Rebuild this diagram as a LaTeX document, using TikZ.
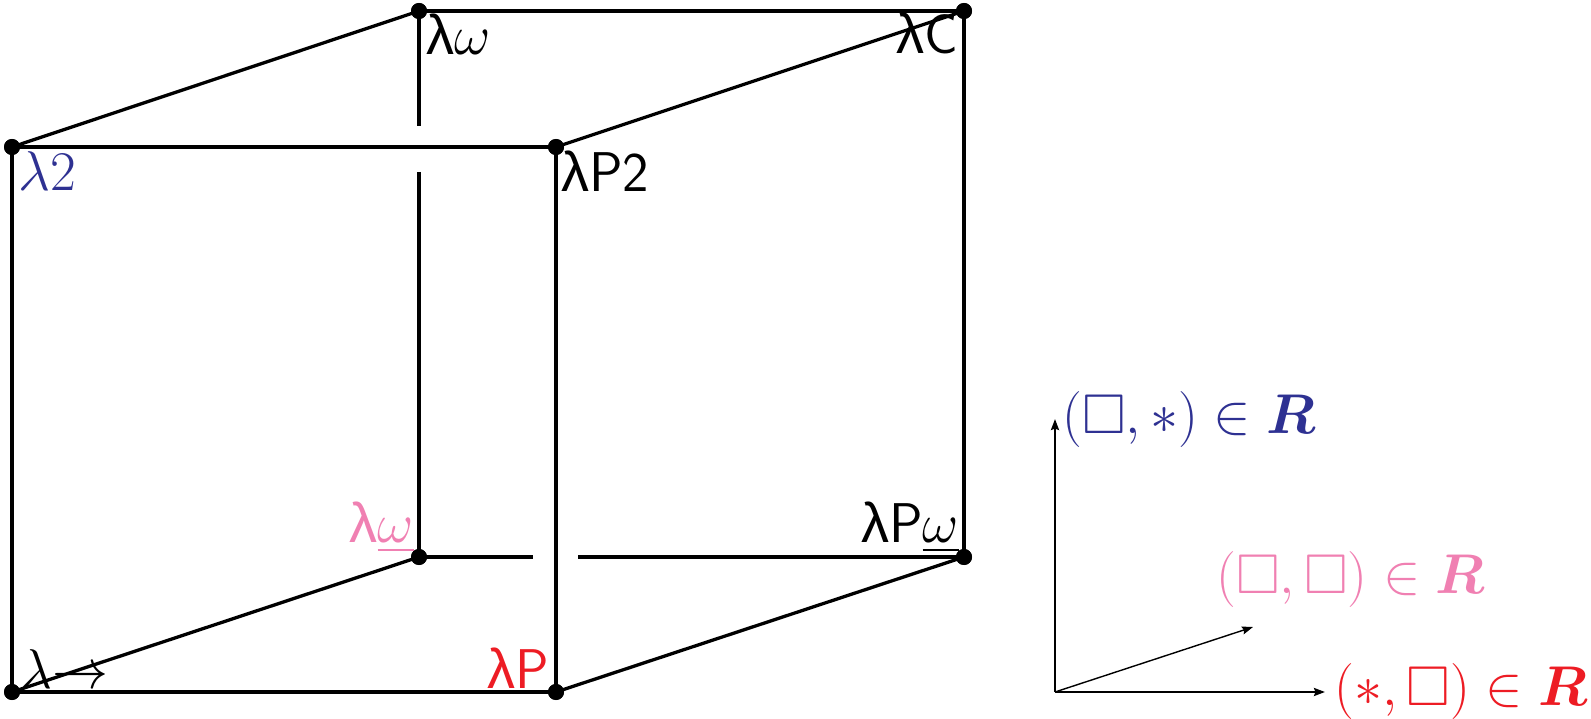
\documentclass[tikz,border=0pt]{standalone}
\usepackage{fix-cm}
\usepackage{fontspec}
\usepackage{amssymb}
\usepackage{bm}
\newfontfamily\lamfont{Liberation Sans}
\usetikzlibrary{arrows.meta}
\definecolor{lblue}{RGB}{46,49,146}
\definecolor{lpink}{RGB}{240,128,178}
\definecolor{lred}{RGB}{237,28,36}
\tikzset{
  edge/.style={line width=3.3pt},
  vdot/.style={circle,fill=black,inner sep=0pt,minimum size=16pt},
  lbl/.style={inner sep=0pt,font=\fontsize{56}{64}\selectfont},
  axis/.style={line width=2.2pt,-{Stealth[length=11pt,width=8pt,inset=1.5pt]}},
  daxis/.style={line width=1.4pt,-{Stealth[length=11pt,width=8pt,inset=1.5pt]}}
}
\begin{document}
\begin{tikzpicture}[x=1pt,y=-1pt]
\useasboundingbox (0,0) rectangle (1591,719);
% vertices
\node[vdot] (A) at (12,692) {};
\node[vdot] (B) at (556,692) {};
\node[vdot] (C) at (419,557) {};
\node[vdot] (D) at (964,557) {};
\node[vdot] (E) at (12,147) {};
\node[vdot] (F) at (556,147) {};
\node[vdot] (G) at (419,11) {};
\node[vdot] (H) at (964,11) {};
\coordinate (g1) at (419,126);
\coordinate (g2) at (419,172);
\coordinate (h1) at (533,557);
\coordinate (h2) at (578,557);
\draw[edge] (A.center) -- (B.center);
\draw[edge] (E.center) -- (F.center);
\draw[edge] (A.center) -- (E.center);
\draw[edge] (B.center) -- (F.center);
\draw[edge] (G.center) -- (H.center);
\draw[edge] (H.center) -- (D.center);
\draw[edge] (E.center) -- (G.center);
\draw[edge] (F.center) -- (H.center);
\draw[edge] (A.center) -- (C.center);
\draw[edge] (B.center) -- (D.center);
\draw[edge] (G.center) -- (g1);
\draw[edge] (g2) -- (C.center);
\draw[edge] (C.center) -- (h1);
\draw[edge] (h2) -- (D.center);
\foreach \v in {A,B,C,D,E,F,G,H} \fill (\v) circle (8pt);
% labels
\node[lbl,anchor=base west,text=lblue] (l2) at (18,191) {$\lambda2$};
\node[lbl,anchor=base west] (lP2) at (561,192) {{\lamfont λ}\textsf{P2}};
\node[lbl,anchor=base west] (lw) at (426,55) {{\lamfont λ}$\omega$};
\node[lbl,anchor=base east] (lC) at (958,54) {{\lamfont λ}\textsf{C}};
\node[lbl,anchor=base east,text=lpink] (lwu) at (414,542) {{\lamfont λ}$\underline{\omega}$};
\node[lbl,anchor=base east] (lPwu) at (959,542) {{\lamfont λ}\textsf{P}$\underline{\omega}$};
\node[lbl,anchor=base east,text=lred] (lP) at (549,688) {{\lamfont λ}\textsf{P}};
\node[lbl,anchor=base west] (lto) at (20,688) {$\lambda{\to}$};
% axes
\coordinate (O) at (1055,692);
\coordinate (Y) at (1055,419);
\coordinate (X) at (1325,692);
\coordinate (Z) at (1253,627);
\draw[axis] (O) -- (Y);
\draw[axis] (O) -- (X);
\draw[daxis] (O) -- (Z);
\node[lbl,anchor=base west,text=lblue] (rb) at (1062,433) {$(\square,*)\in\bm{R}$};
\node[lbl,anchor=base west,text=lpink] (rp) at (1216,593) {$(\square,\square)\in\bm{R}$};
\node[lbl,anchor=base west,text=lred] (rr) at (1334,705) {$(*,\square)\in\bm{R}$};
\end{tikzpicture}
\end{document}
